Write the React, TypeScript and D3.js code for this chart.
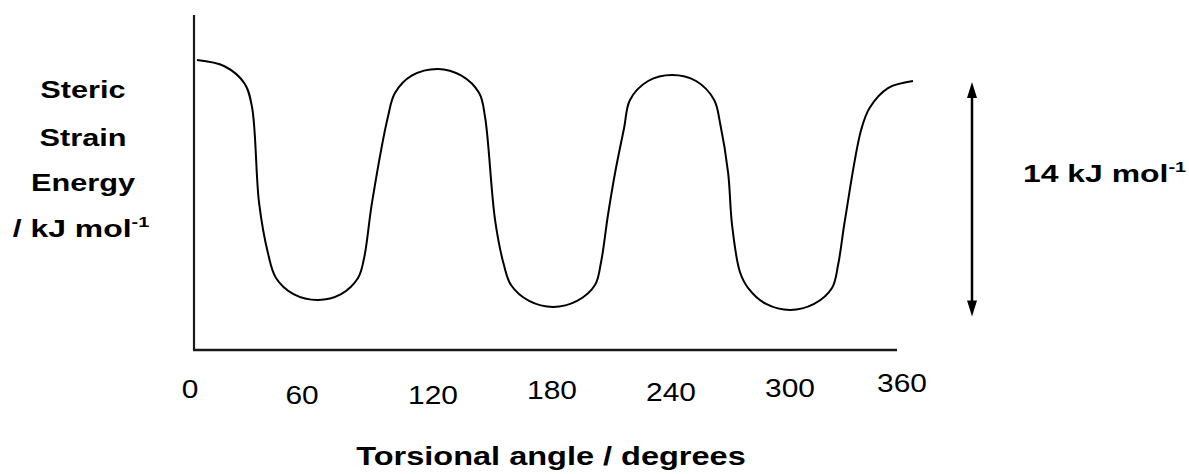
import React from "react";
import * as d3 from "d3";

// torsional angle (degrees) and steric strain energy (kJ/mol)
const angles = [2.0, 16.0, 26.2, 30.0, 33.6, 38.1, 42.2, 51.1, 63.6, 75.3, 83.9, 87.0, 91.0, 99.1, 102.7, 111.4, 124.6, 136.3, 145.5, 148.5, 153.6, 158.1, 161.7, 170.9, 183.1, 195.3, 204.4, 207.5, 211.0, 214.6, 219.2, 222.2, 231.4, 243.6, 255.8, 265.0, 268.0, 272.1, 274.1, 278.1, 282.3, 291.4, 303.6, 315.8, 324.9, 328.0, 331.5, 339.7, 344.0, 353.4, 366.1];
const energies = [17.31, 16.94, 15.91, 14.51, 8.78, 5.79, 4.30, 3.34, 2.99, 3.34, 4.30, 5.49, 8.78, 13.91, 15.34, 16.39, 16.78, 16.39, 15.34, 13.91, 7.76, 5.07, 3.88, 2.93, 2.57, 2.93, 3.88, 5.25, 8.06, 10.57, 13.25, 14.93, 16.06, 16.42, 16.06, 14.93, 13.55, 10.57, 7.46, 4.66, 3.70, 2.75, 2.39, 2.75, 3.70, 5.07, 7.76, 13.13, 14.45, 15.64, 16.06];
const tickValues = [0, 60, 120, 180, 240, 300, 360];
const tickLabels = ["0", "60", "120", "180", "240", "300", "360"];
const rangeLow = 2.0;
const rangeHigh = 16.0;
const rangeLabel = "14 kJ mol";
const yLabelLines = ["Steric", "Strain", "Energy"];
const xTitle = "Torsional angle / degrees";

// layout (hand-placed label jitter of the original)
const tickDx = [-3, -9, 4, 5, 6, 7, 1];
const tickBaseline = [398, 404, 404, 399, 401, 397, 392];
const yLabelBaseline = [98, 146, 191, 237];

const W = 1189;
const H = 474;
const FONT = "'Liberation Sans', Arial, Helvetica, sans-serif";
const SX = 1.28; // the original's lettering is horizontally stretched

export default function App() {
  const x = d3.scaleLinear().domain([0, 360]).range([193, 901]);
  const y = d3.scaleLinear().domain([0, 20]).range([350, 15]);
  const pts: [number, number][] = angles.map((a, i) => [a, energies[i]]);
  const line = d3
    .line<[number, number]>()
    .x((d) => x(d[0]))
    .y((d) => y(d[1]))
    .curve(d3.curveCatmullRom.alpha(0.5));

  const ax = 972;
  const yTop = y(rangeHigh);
  const yBot = y(rangeLow);

  return (
    <svg
      width={W}
      height={H}
      style={{ position: "absolute", left: 0, top: 0, background: "#fff" }}
      fontFamily={FONT}
    >
      <rect width={W} height={H} fill="#fff" />
      {/* axes */}
      <line x1={194} x2={194} y1={y(20)} y2={y(0)} stroke="#1a1a1a" strokeWidth={2.2} />
      <line x1={193} x2={897} y1={y(0)} y2={y(0)} stroke="#1a1a1a" strokeWidth={2.4} />
      {/* curve */}
      <path d={line(pts) || ""} fill="none" stroke="#000" strokeWidth={2} />
      {/* tick labels */}
      {tickValues.map((t, i) => (
        <text
          key={t}
          transform={`translate(${x(t) + tickDx[i]},${tickBaseline[i]}) scale(1.15,1)`}
          textAnchor="middle"
          fontSize={26}
          fill="#000"
        >
          {tickLabels[i]}
        </text>
      ))}
      {/* x title */}
      <text
        transform={`translate(551,465) scale(1.25,1)`}
        textAnchor="middle"
        fontSize={26}
        fontWeight="bold"
        fill="#000"
      >
        {xTitle}
      </text>
      {/* y label */}
      {yLabelLines.map((s, i) => (
        <text
          key={s}
          transform={`translate(83,${yLabelBaseline[i]}) scale(${SX},1)`}
          textAnchor="middle"
          fontSize={24}
          fontWeight="bold"
          fill="#000"
        >
          {s}
        </text>
      ))}
      <text
        transform={`translate(81,${yLabelBaseline[3]}) scale(1.33,1)`}
        textAnchor="middle"
        fontSize={24}
        fontWeight="bold"
        fill="#000"
      >
        / kJ mol
        <tspan fontSize={15} dy={-10}>-1</tspan>
      </text>
      {/* range arrow */}
      <line x1={ax} x2={ax} y1={yTop + 10} y2={yBot - 10} stroke="#000" strokeWidth={2.5} />
      <path d={`M${ax},${yTop} L${ax - 5},${yTop + 16} L${ax + 5},${yTop + 16} Z`} fill="#000" />
      <path d={`M${ax},${yBot} L${ax - 5},${yBot - 16} L${ax + 5},${yBot - 16} Z`} fill="#000" />
      <text
        transform={`translate(1023,182) scale(1.33,1)`}
        fontSize={24}
        fontWeight="bold"
        fill="#000"
      >
        {rangeLabel}
        <tspan fontSize={15} dy={-10}>-1</tspan>
      </text>
    </svg>
  );
}
